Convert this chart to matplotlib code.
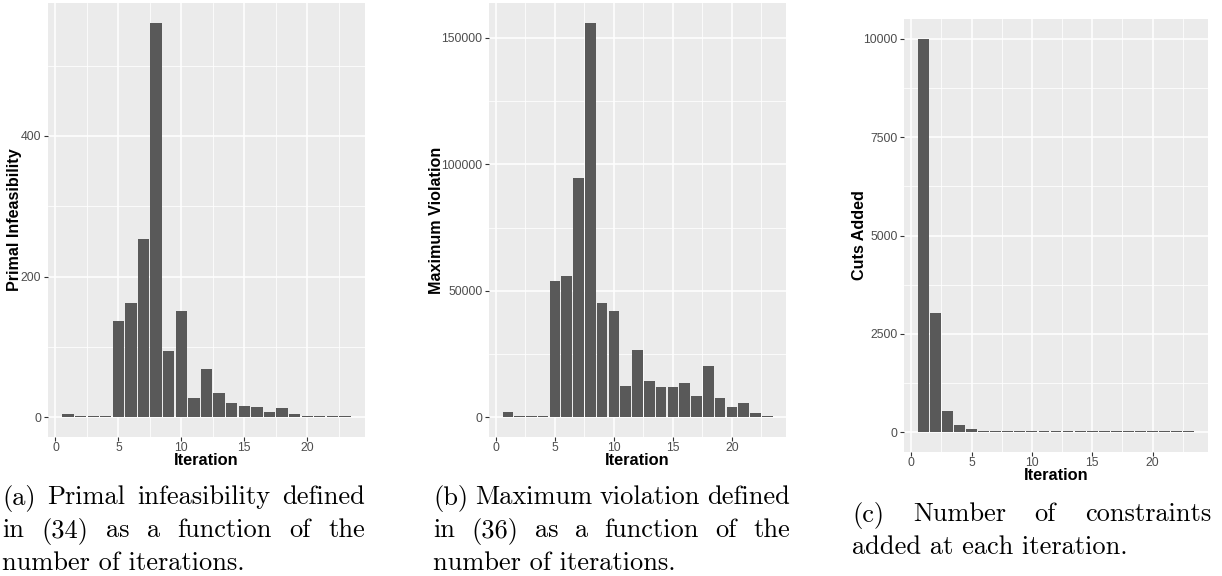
import matplotlib
matplotlib.use("Agg")
import matplotlib.pyplot as plt
from matplotlib.ticker import MultipleLocator

iterations = list(range(1, 24))
primal_infeas = [4, 1.5, 1.5, 1.5, 137, 162, 254, 561, 94, 151, 27, 68, 35, 21, 16, 14, 7, 13, 4, 1.5, 1.2, 1.2, 1.2]
max_violation = [1900, 400, 400, 400, 54000, 56000, 94800, 156000, 45100, 41900, 12500, 26700,
                 14500, 12100, 12100, 13700, 8600, 20400, 7500, 4200, 5800, 1850, 400]
cuts_added = [10000, 3030, 550, 177, 76, 45, 45, 45, 45, 45, 45, 45, 45, 45,
              22, 22, 22, 22, 22, 22, 22, 22, 22]

y_titles = ["Primal Infeasibility", "Maximum Violation", "Cuts Added"]
x_title = "Iteration"
y_ticks = [[0, 200, 400], [0, 50000, 100000, 150000], [0, 2500, 5000, 7500, 10000]]
y_minor = [100, 25000, 1250]
x_ticks = [0, 5, 10, 15, 20]
captions = [
    ["(a) Primal infeasibility defined", "in (34) as a function of the", "number of iterations."],
    ["(b) Maximum violation defined", "in (36) as a function of the", "number of iterations."],
    ["(c) Number of constraints", "added at each iteration."],
]

W, H = 1222, 576
fig = plt.figure(figsize=(W / 100, H / 100), dpi=100)

# panel boxes in pixels: left, right, top, bottom
boxes = [(48, 365, 3, 437), (489, 786, 3, 437), (904, 1208, 19, 452)]
ytitle_x = [14.5, 436.5, 860]
series = [primal_infeas, max_violation, cuts_added]

BG = "#EBEBEB"
BAR = "#595959"

for i, (l, r, t, b) in enumerate(boxes):
    ax = fig.add_axes([l / W, 1 - b / H, (r - l) / W, (b - t) / H])
    ax.set_facecolor(BG)
    vals = series[i]
    ax.bar(iterations, vals, width=0.9, color=BAR, zorder=3, linewidth=0)
    vmax = max(vals)
    ax.set_xlim(0.55 - 0.05 * 22.9, 23.45 + 0.05 * 22.9)
    ax.set_ylim(-0.05 * vmax, vmax * 1.05)
    ax.set_xticks(x_ticks)
    ax.set_yticks(y_ticks[i])
    ax.set_yticklabels([str(v) for v in y_ticks[i]])
    ax.xaxis.set_minor_locator(MultipleLocator(2.5))
    ax.yaxis.set_minor_locator(MultipleLocator(y_minor[i]))
    ax.grid(True, which="major", color="white", linewidth=1.1, zorder=0)
    ax.grid(True, which="minor", color="white", linewidth=0.55, zorder=0)
    ax.set_axisbelow(True)
    for s in ax.spines.values():
        s.set_visible(False)
    ax.tick_params(which="major", length=2.75, width=0.8, color="#333333",
                   labelsize=8.8, labelcolor="#4D4D4D", pad=2.0)
    ax.tick_params(axis="x", which="major", pad=1.0)
    ax.tick_params(which="minor", length=0)
    for lab in ax.get_xticklabels() + ax.get_yticklabels():
        lab.set_fontfamily("Liberation Sans")
    cx = (l + r) / 2
    cy = (t + b) / 2
    fig.text(ytitle_x[i] / W, 1 - cy / H, y_titles[i], rotation=90, ha="center", va="center",
             fontsize=11.6, fontweight="bold", family="Liberation Sans", color="black")
    fig.text(cx / W, 1 - (b + 23.5) / H, x_title, ha="center", va="center",
             fontsize=11.8, fontweight="bold", family="Liberation Sans", color="black")

# captions, justified
renderer = fig.canvas.get_renderer()
cap_left = [2, 433, 852]
cap_right = [365, 790, 1211]
cap_y0 = [495, 495, 512]
line_gap = [33, 33, 33]
cap_fs = 19.0


def word_width(word):
    t = fig.text(0, 0, word, fontsize=cap_fs, family="cmr10")
    w = t.get_window_extent(renderer).width
    t.remove()
    return w


min_gap = 0.22 * cap_fs * 100 / 72
for c, lines in enumerate(captions):
    for j, line in enumerate(lines):
        y = 1 - (cap_y0[c] + j * line_gap[c]) / H
        last = j == len(lines) - 1
        if last:
            fig.text(cap_left[c] / W, y, line, fontsize=cap_fs, family="cmr10",
                     ha="left", va="center_baseline")
            continue
        words = line.split(" ")
        widths = [word_width(wd) for wd in words]
        gap = max(min_gap, (cap_right[c] - cap_left[c] - sum(widths)) / (len(words) - 1))
        x = cap_left[c]
        for wd, ww in zip(words, widths):
            fig.text(x / W, y, wd, fontsize=cap_fs, family="cmr10", ha="left",
                     va="center_baseline")
            x += ww + gap

fig.savefig("out.png", dpi=100)
